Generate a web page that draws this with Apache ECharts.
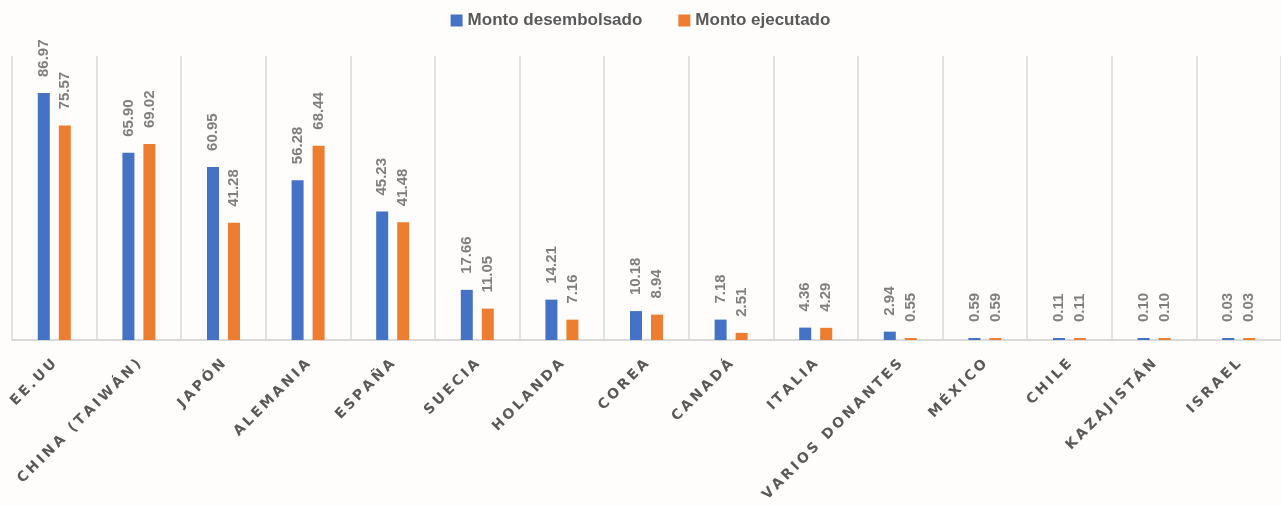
<!DOCTYPE html>
<html>
<head>
<meta charset="utf-8">
<script src="https://cdn.jsdelivr.net/npm/echarts@6/dist/echarts.min.js"></script>
<style>
  html, body { margin: 0; padding: 0; background: #fefdfc; }
  #main { width: 1281px; height: 506px; }
</style>
</head>
<body>
<div id="main"></div>
<script>
var paises = ['EE.UU', 'CHINA (TAIWÁN)', 'JAPÓN', 'ALEMANIA', 'ESPAÑA', 'SUECIA', 'HOLANDA', 'COREA',
  'CANADÁ', 'ITALIA', 'VARIOS DONANTES', 'MÉXICO', 'CHILE', 'KAZAJISTÁN', 'ISRAEL'];
var desembolsado = [86.97, 65.90, 60.95, 56.28, 45.23, 17.66, 14.21, 10.18, 7.18, 4.36, 2.94, 0.59, 0.11, 0.10, 0.03];
var ejecutado = [75.57, 69.02, 41.28, 68.44, 41.48, 11.05, 7.16, 8.94, 2.51, 4.29, 0.55, 0.59, 0.11, 0.10, 0.03];

var chart = echarts.init(document.getElementById('main'));

// etiqueta vertical encima de cada barra
var etiqueta = {
  show: true,
  position: 'top',
  rotate: 90,
  align: 'left',
  verticalAlign: 'middle',
  distance: 16,
  color: '#7f7f7f',
  fontFamily: 'Liberation Sans',
  fontWeight: 'bold',
  fontSize: 15,
  formatter: function (p) { return p.value.toFixed(2); }
};

// espaciado entre letras del eje (rich text)
function espaciar(txt) {
  return txt.split('').map(function (c) { return '{l|' + c + '}'; }).join('{s| }');
}

var option = {
  backgroundColor: '#fefdfc',
  animation: false,
  color: ['#4472C4', '#ED7D31'],
  legend: {
    top: 7,
    left: 'center',
    icon: 'rect',
    itemWidth: 12,
    itemHeight: 12,
    itemGap: 36,
    textStyle: { color: '#595959', fontFamily: 'Liberation Sans', fontWeight: 'bold', fontSize: 17 },
    data: ['Monto desembolsado', 'Monto ejecutado']
  },
  grid: {
    left: 12,
    right: 0,
    top: 56,
    bottom: 166
  },
  xAxis: {
    type: 'category',
    data: paises,
    axisTick: { show: false },
    axisLine: { lineStyle: { color: '#d9d9d9', width: 2 } },
    splitLine: { show: true, lineStyle: { color: '#d9d9d9', width: 1.5 } },
    axisLabel: {
      rotate: 45,
      margin: 22,
      interval: 0,
      formatter: espaciar,
      rich: {
        l: { color: '#595959', fontFamily: 'DejaVu Sans', fontWeight: 'bold', fontSize: 14 },
        s: { fontFamily: 'DejaVu Sans', fontSize: 9 }
      }
    }
  },
  yAxis: {
    type: 'value',
    min: 0,
    max: 100,
    show: false,
    splitLine: { show: false }
  },
  series: [
    {
      name: 'Monto desembolsado',
      type: 'bar',
      barWidth: 12,
      barGap: '75%',
      barMinHeight: 2,
      label: etiqueta,
      data: desembolsado
    },
    {
      name: 'Monto ejecutado',
      type: 'bar',
      barWidth: 12,
      barMinHeight: 2,
      label: etiqueta,
      data: ejecutado
    }
  ]
};

chart.setOption(option);
</script>
</body>
</html>
